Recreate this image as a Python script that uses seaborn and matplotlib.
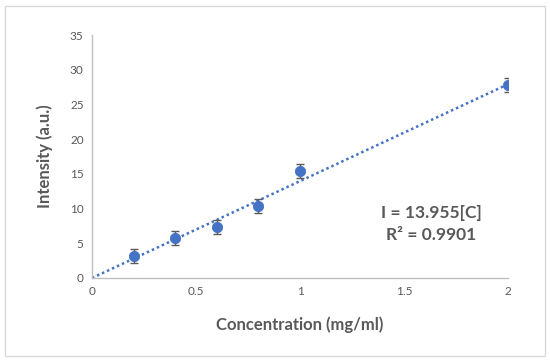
import matplotlib.pyplot as plt
import numpy as np
import pandas as pd
import seaborn as sns
from matplotlib.patches import Rectangle

conc = [0.2, 0.4, 0.6, 0.8, 1.0, 2.0]
intensity = [3.2, 5.8, 7.4, 10.4, 15.4, 27.8]
err = [1.0, 1.0, 1.0, 1.0, 1.0, 1.0]
slope = 13.955
r2 = 0.9901

df = pd.DataFrame({"conc": conc, "intensity": intensity, "err": err})
trend = pd.DataFrame({"conc": [0.0, 2.0]})
trend["intensity"] = slope * trend["conc"]

sns.set_style("white")
plt.rcParams["font.family"] = ["Lato", "DejaVu Sans"]

fig = plt.figure(figsize=(5.5, 3.61), dpi=100)
ax = fig.add_axes([92 / 550, 1 - 278 / 361, (508 - 92) / 550, (278 - 35) / 361])

blue = "#4472C4"
grey = "#595959"

sns.lineplot(data=trend, x="conc", y="intensity", ax=ax, color=blue,
             linestyle=(0, (1, 1.2)), linewidth=1.8, zorder=2)
ax.errorbar(df["conc"], df["intensity"], yerr=df["err"], fmt="none",
            ecolor=grey, elinewidth=1, capsize=3, capthick=1, zorder=3)
sns.scatterplot(data=df, x="conc", y="intensity", ax=ax, color=blue,
                s=55, edgecolor=blue, zorder=4)

ax.set_xlim(0, 2)
ax.set_ylim(0, 35)
ax.set_xticks([0, 0.5, 1, 1.5, 2])
ax.set_xticklabels(["0", "0.5", "1", "1.5", "2"])
ax.set_yticks(range(0, 36, 5))
ax.tick_params(axis="both", length=0, labelsize=8.5, colors=grey, pad=6)

for side in ["top", "right"]:
    ax.spines[side].set_visible(False)
for side in ["left", "bottom"]:
    ax.spines[side].set_color("#BFBFBF")
    ax.spines[side].set_linewidth(1)

ax.set_xlabel("Concentration (mg/ml)", fontsize=12, fontweight="bold",
              color=grey, labelpad=14)
ax.set_ylabel("Intensity (a.u.)", fontsize=12, fontweight="bold",
              color=grey, labelpad=12)

ax.text(1.63, 9.4, f"I = {slope:.3f}[C]", fontsize=12.5, fontweight="bold",
        color=grey, ha="center", va="center")
ax.text(1.63, 6.2, f"R² = {r2}", fontsize=12.5, fontweight="bold",
        color=grey, ha="center", va="center")

fig.patches.append(Rectangle((5 / 550, 5 / 361), 540 / 550, 350 / 361,
                             transform=fig.transFigure, fill=False,
                             edgecolor="#D9D9D9", linewidth=1))

fig.savefig("out.png", dpi=100)
